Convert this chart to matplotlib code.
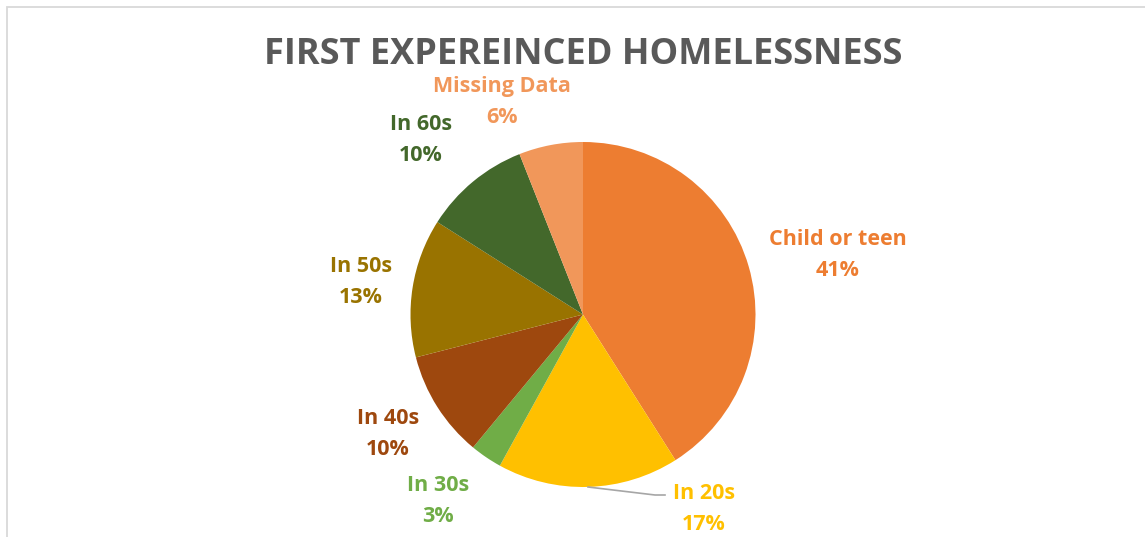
import matplotlib.pyplot as plt
from matplotlib.patches import Rectangle

plt.rcParams['font.family'] = ['Open Sans', 'DejaVu Sans']

# data, clockwise from 12 o'clock
categories = ["Child or teen", "In 20s", "In 30s", "In 40s", "In 50s", "In 60s", "Missing Data"]
values = [41, 17, 3, 10, 13, 10, 6]
colors = ["#ED7D31", "#FFC000", "#70AD47", "#9E480E", "#997300", "#43682B", "#F1975A"]

# label centres (pixels from top-left)
label_pos = [(838, 255), (704, 509), (438, 501), (388, 434), (361, 282), (421, 140), (502, 102)]

W, H = 1145, 537
fig = plt.figure(figsize=(W / 100, H / 100), dpi=100)
ax = fig.add_axes([0, 0, 1, 1])
ax.set_xlim(0, W)
ax.set_ylim(0, H)
ax.set_aspect('equal')
ax.axis('off')

# chart border
ax.add_patch(Rectangle((7, -10), W + 20, H - 7 + 10, fill=False, edgecolor="#D9D9D9", linewidth=1.3))

cx, cy, r = 583, H - 314.5, 172.5
ax.pie(values, colors=colors, startangle=90, counterclock=False,
       center=(cx, cy), radius=r, frame=True,
       wedgeprops=dict(linewidth=0))
ax.set_xlim(0, W)
ax.set_ylim(0, H)
ax.axis('off')

ax.text(583, H - 55, "FIRST EXPEREINCED HOMELESSNESS", ha='center', va='center',
        fontsize=26, fontweight='bold', color="#595959")

for cat, val, col, (x, y) in zip(categories, values, colors, label_pos):
    ax.text(x, H - y, f"{cat}\n{val}%", ha='center', va='center', fontsize=15.5,
            fontweight='bold', color=col, linespacing=1.58)

# leader line for In 20s
ax.plot([588, 655, 665], [H - 487, H - 495, H - 495], color="#A6A6A6", linewidth=1.2)

fig.savefig("out.png", dpi=100)
